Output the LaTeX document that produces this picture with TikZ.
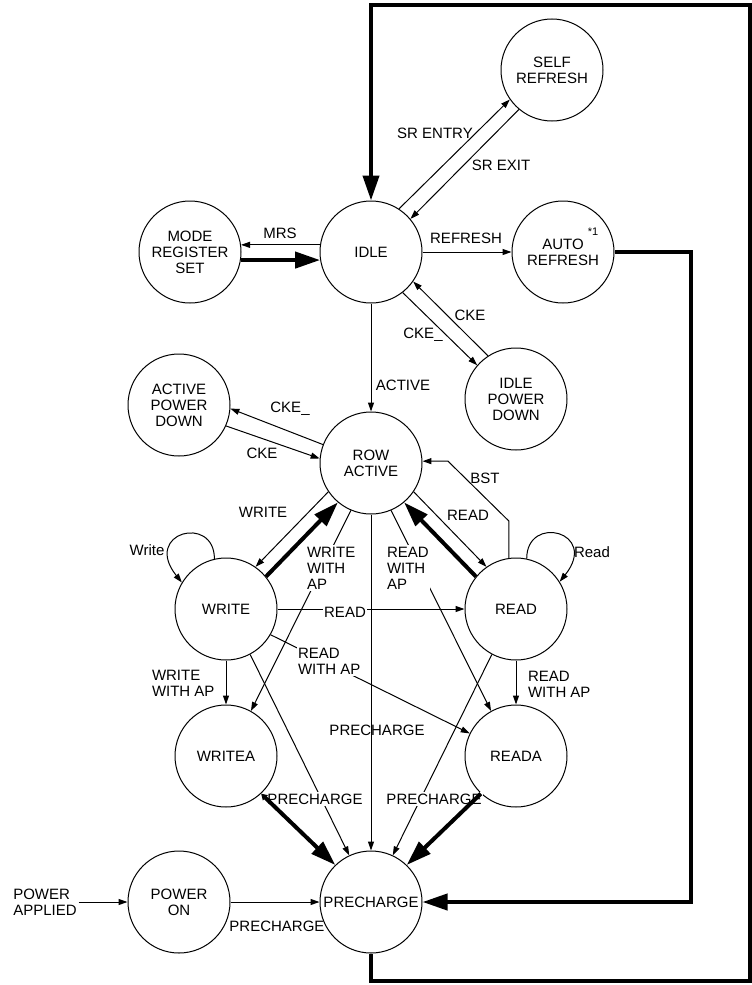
\documentclass[tikz,border=0pt]{standalone}
\usepackage{fontspec}
\setmainfont{Liberation Sans}
\usetikzlibrary{arrows.meta}

\begin{document}
\begin{tikzpicture}[x=1pt, y=-1pt, line width=1pt,
    every node/.style={font=\fontsize{15}{16}\selectfont},
    state/.style={circle, draw, minimum size=102pt, inner sep=0pt, align=center},
    lab/.style={inner sep=1.5pt, align=left},
    wlab/.style={lab, fill=white},
    >={Triangle[length=9pt, width=6pt]},
    heavy/.style={line width=4pt, -{Triangle[length=25pt, width=16pt]}}]
            \useasboundingbox (0,0) rectangle (752,985);

            % Draw the states
            \node[state] (self) at (552,70) {SELF\\REFRESH};
            \node[state] (idle) at (371,252) {IDLE};
            \node[state] (mrs) at (190,252) {MODE\\REGISTER\\SET};
            \node[state] (auto) at (563,252) {AUTO\\REFRESH};
            \node[state] (ipd) at (516,399) {IDLE\\POWER\\DOWN};
            \node[state] (apd) at (179,405) {ACTIVE\\POWER\\DOWN};
            \node[state] (row) at (371,463) {ROW\\ACTIVE};
            \node[state] (write) at (226,609) {WRITE};
            \node[state] (read) at (516,609) {READ};
            \node[state] (writea) at (226,756) {WRITEA};
            \node[state] (reada) at (516,756) {READA};
            \node[state] (pre) at (371,902) {PRECHARGE};
            \node[state] (pon) at (179,902) {POWER\\ON};
            \node[lab] (pwr) at (45,902) {POWER\\APPLIED};
            \node[inner sep=0pt, font=\fontsize{11}{12}\selectfont] (star) at (593,232) {*1};

            % Draw the thin transitions
            \draw[->] (idle.57) -- (self.215);
            \draw[->] (self.230) -- (idle.40);
            \draw[->] (idle.east) -- (auto.west);
            \draw[->] (idle.172) -- (mrs.8);
            \draw[->] (idle.south) -- (row.north);
            \draw[->] (idle.308) -- (ipd.139);
            \draw[->] (ipd.123) -- (idle.325);
            \draw[->] (row.159) -- (apd.-4);
            \draw[->] (apd.-24) -- (row.175);
            \draw[->] (read.98) -- ++(0,-37) -- ++(-61,-60) -- (row.2);
            \draw[->] (row.214) -- (write.55);
            \draw[->] (row.326) -- (read.125);
            \draw[->] (row.south) -- (pre.north);
            \draw[->] (row.247) -- (writea.61);
            \draw[->] (row.293) -- (reada.119);
            \draw[->] (write.east) -- (read.west);
            \draw[->] (write.south) -- (writea.north);
            \draw[->] (read.south) -- (reada.north);
            \draw[->] (write.330) -- (reada.154);
            \draw[->] (write.298) -- (pre.115);
            \draw[->] (read.242) -- (pre.65);
            \draw[->] (pwr.east) -- (pon.west);
            \draw[->] (pon.east) -- (pre.west);
            \draw[->] (write.103) .. controls +(0,-45) and +(-40,-50) .. (write.149);
            \draw[->] (read.78) .. controls +(0,-45) and +(40,-50) .. (read.32);

            % Draw the labels
            \node[lab] (tsren) at (435,133) {SR ENTRY};
            \node[lab] (tsrex) at (501,165) {SR EXIT};
            \node[lab] (tmrs) at (280,233) {MRS};
            \node[lab] (tref) at (466,238) {REFRESH};
            \node[lab] (tckei) at (470,315) {CKE};
            \node[lab] (tckeo) at (423,335) {CKE\_};
            \node[lab] (tact) at (403,385) {ACTIVE};
            \node[lab] (tckeao) at (290,409) {CKE\_};
            \node[lab] (tckeai) at (262,453) {CKE};
            \node[lab] (tbst) at (485,478) {BST};
            \node[lab] (twr) at (263,512) {WRITE};
            \node[lab] (trd) at (468,515) {READ};
            \node[lab] (twl) at (147,550) {Write};
            \node[lab] (trl) at (592,552) {Read};
            \node[wlab, anchor=west] (twrap) at (305,568) {WRITE\\WITH\\AP};
            \node[wlab, anchor=west] (trdap) at (385,568) {READ\\WITH\\AP};
            \node[wlab] (trdx) at (345,612) {READ};
            \node[wlab, anchor=west] (trdapx) at (296,661) {READ\\WITH AP};
            \node[lab, anchor=west] (twrapa) at (150,683) {WRITE\\WITH AP};
            \node[lab, anchor=west] (trdapa) at (526,684) {READ\\WITH AP};
            \node[lab] (tpre) at (377,730) {PRECHARGE};
            \node[wlab] (tprel) at (315,799) {PRECHARGE};
            \node[wlab] (tprer) at (434,799) {PRECHARGE};
            \node[lab] (tpreo) at (277,926) {PRECHARGE};

            % Draw the heavy transitions
            \draw[heavy] (mrs.-9) -- (idle.189);
            \draw[heavy] (write.39) -- (row.230);
            \draw[heavy] (read.141) -- (row.310);
            \draw[heavy, {Triangle[length=6pt, width=7pt]}-{Triangle[length=25pt, width=16pt]}] (writea.313) -- (pre.134);
            \draw[heavy] (reada.227) -- (pre.46);
            \draw[heavy] (auto.east) -- ++(76,0) |- (pre.east);
            \draw[heavy] (pre.south) -- ++(0,27) -| (750,5) -| (idle.north);
        \end{tikzpicture}
\end{document}
